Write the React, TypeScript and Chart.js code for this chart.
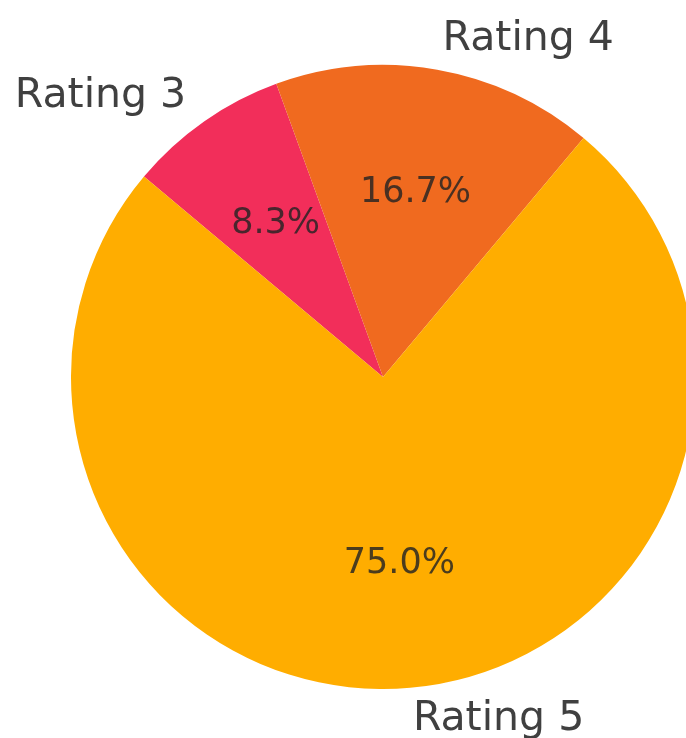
import React, { useEffect, useRef } from "react";
import { Chart, registerables } from "chart.js";

Chart.register(...registerables);

const categories = ["Rating 3", "Rating 4", "Rating 5"];
const counts = [1, 2, 9];
const sliceColors = ["#F22E5A", "#F06A1F", "#FFAD00"];

const labelPlugin = {
  id: "pieLabels",
  afterDatasetsDraw(chart: any) {
    const ctx = chart.ctx;
    const meta = chart.getDatasetMeta(0);
    const data = chart.data.datasets[0].data as number[];
    const total = data.reduce((a: number, b: number) => a + b, 0);
    ctx.save();
    meta.data.forEach((arc: any, i: number) => {
      const { x, y, startAngle, endAngle, outerRadius } = arc.getProps(
        ["x", "y", "startAngle", "endAngle", "outerRadius"],
        true
      );
      const mid = (startAngle + endAngle) / 2;
      const cos = Math.cos(mid);
      const sin = Math.sin(mid);
      // outer category label
      ctx.font = "41px 'DejaVu Sans'";
      ctx.fillStyle = "#404040";
      ctx.textBaseline = "middle";
      ctx.textAlign = cos >= 0 ? "left" : "right";
      ctx.fillText(
        chart.data.labels[i],
        x + cos * outerRadius * 1.1,
        y + sin * outerRadius * 1.1
      );
      // percentage
      ctx.font = "35px 'DejaVu Sans'";
      ctx.fillStyle = "rgba(35,35,35,0.82)";
      ctx.textAlign = "center";
      const pct = ((data[i] / total) * 100).toFixed(1) + "%";
      ctx.fillText(pct, x + cos * outerRadius * 0.6, y + sin * outerRadius * 0.6);
    });
    ctx.restore();
  },
};

export default function App() {
  const ref = useRef<HTMLCanvasElement | null>(null);
  useEffect(() => {
    if (!ref.current) return;
    const chart = new Chart(ref.current, {
      type: "pie",
      data: {
        labels: categories,
        datasets: [
          {
            data: counts,
            backgroundColor: sliceColors,
            borderWidth: 0,
            hoverOffset: 0,
            offset: 0,
          },
        ],
      },
      options: {
        animation: false,
        responsive: false,
        rotation: -50,
        layout: { padding: { left: 71, right: 5, top: 65, bottom: 49 } },
        plugins: {
          legend: { display: false },
          tooltip: { enabled: false },
        },
      },
      plugins: [labelPlugin],
    });
    return () => chart.destroy();
  }, []);
  return (
    <div
      style={{
        position: "fixed",
        left: 0,
        top: 0,
        width: 686,
        height: 738,
        overflow: "hidden",
        background: "#ffffff",
      }}
    >
      <canvas ref={ref} width={700} height={738} style={{ display: "block" }} />
    </div>
  );
}
